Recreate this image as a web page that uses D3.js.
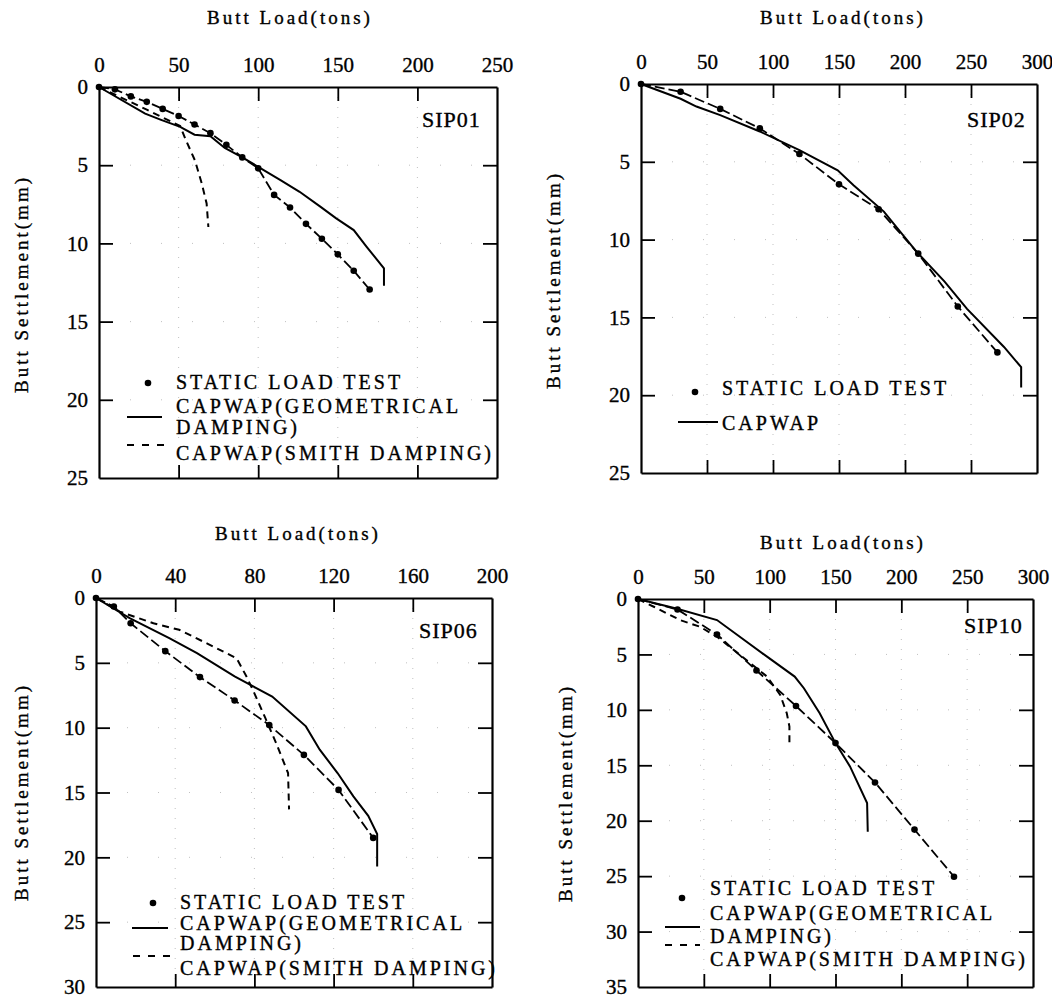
<!DOCTYPE html>
<html>
<head>
<meta charset="utf-8">
<script src="https://cdn.jsdelivr.net/npm/d3@7"></script>
<style>
body { margin: 0; background: #fff; }
text { font-family: "Liberation Serif", "Times New Roman", serif; fill: #000; stroke: #000; stroke-width: 0.35px; }
.tick text { font-family: "Liberation Serif", serif; font-size: 21px; }
.legend text { font-size: 20px; letter-spacing: 3px; }
</style>
</head>
<body>
<div id="chart"></div>
<script>
// ---- data (load in tons, settlement in mm) ----
var sip01Load   = [0, 10, 20, 30, 40, 50, 60, 70, 80, 90, 100, 110, 120, 130, 140, 150, 160, 170];
var sip01Static = [0, 0.15, 0.6, 0.95, 1.4, 1.85, 2.4, 2.95, 3.7, 4.5, 5.2, 6.9, 7.7, 8.75, 9.7, 10.7, 11.75, 12.95];
var sip01GeoLoad = [0, 29, 39, 51, 60, 70, 79, 90, 100, 114, 126, 139, 149, 160, 168, 179, 179];
var sip01GeoSet  = [0, 1.7, 2.1, 2.55, 3.05, 3.15, 3.9, 4.5, 5.1, 5.95, 6.7, 7.65, 8.4, 9.15, 10.2, 11.6, 12.7];
var sip01SmithLoad = [0, 30, 51, 54.6, 60.3, 64.5, 67.6, 68.7];
var sip01SmithSet  = [0, 1.45, 2.5, 3.4, 4.7, 6.15, 7.45, 8.95];

var sip02Load   = [0, 30, 60, 90, 120, 150, 180, 210, 240, 270];
var sip02Static = [0, 0.5, 1.6, 2.85, 4.5, 6.45, 8.05, 10.9, 14.3, 17.25];
var sip02CapLoad = [0, 30, 42, 60, 90, 120, 149, 161, 184, 209, 230, 247, 275, 288, 288];
var sip02CapSet  = [0, 0.95, 1.45, 2.0, 3.05, 4.25, 5.55, 6.5, 8.2, 10.8, 12.7, 14.45, 16.9, 18.2, 19.5];

var sip06Load   = [0, 9, 17.5, 35, 52.5, 70, 87.5, 105, 122.5, 140];
var sip06Static = [0, 0.65, 1.95, 4.1, 6.1, 7.9, 9.8, 12.1, 14.8, 18.5];
var sip06GeoLoad = [0, 17, 37, 51, 70, 89, 106, 113, 122, 130, 137.5, 142, 142];
var sip06GeoSet  = [0, 1.55, 3.1, 4.25, 6.05, 7.6, 9.9, 11.7, 13.5, 15.3, 16.8, 18.2, 20.7];
var sip06SmithLoad = [0, 12, 29, 42, 56, 71, 76, 80, 85.5, 91, 97, 97.5];
var sip06SmithSet  = [0, 1.05, 1.95, 2.45, 3.5, 4.65, 6.05, 7.35, 9.25, 11.2, 13.5, 16.3];

var sip10Load   = [0, 30, 60, 90, 120, 150, 180, 210, 240];
var sip10Static = [0, 0.95, 3.2, 6.45, 9.65, 13.0, 16.55, 20.8, 25.05];
var sip10GeoLoad = [0, 29, 60, 98, 119, 126, 138, 150, 161, 174, 174.5];
var sip10GeoSet  = [0, 0.85, 1.9, 5.2, 7.0, 8.05, 10.3, 13.0, 15.1, 18.4, 21.0];
var sip10SmithLoad = [0, 12, 32, 47, 60, 77.5, 98, 108, 113, 115, 115];
var sip10SmithSet  = [0, 0.7, 1.9, 2.5, 3.4, 5.05, 7.0, 8.65, 10.3, 11.5, 13.3];

var xTitle = "Butt Load(tons)";
var yTitle = "Butt Settlement(mm)";
var legStatic = "STATIC LOAD TEST";
var legGeo = ["CAPWAP(GEOMETRICAL", "DAMPING)"];
var legSmith = "CAPWAP(SMITH DAMPING)";
var legCap = "CAPWAP";

function zip(xs, ys) {
    return xs.map(function(v, i) { return [v, ys[i]]; });
}

// layout of the four panels (pixels)
var panels = [
    { name: "SIP01", x0: 99, y0: 87, x1: 497, y1: 478, xMax: 250, xStep: 50, yMax: 25,
      nameAt: [422, 127], titleAt: [290, 24], yTitleAt: [28, 284],
      stat: zip(sip01Load, sip01Static), geo: zip(sip01GeoLoad, sip01GeoSet), smith: zip(sip01SmithLoad, sip01SmithSet),
      legend: { dot: [148, 383], solid: [127, 162, 417], dash: [127, 165, 445], textX: 176,
                lines: [[legStatic, 389], [legGeo[0], 413], [legGeo[1], 434], [legSmith, 460]] } },
    { name: "SIP02", x0: 641, y0: 84, x1: 1037, y1: 473, xMax: 300, xStep: 50, yMax: 25,
      nameAt: [967, 127], titleAt: [843, 24], yTitleAt: [560, 280],
      stat: zip(sip02Load, sip02Static), geo: zip(sip02CapLoad, sip02CapSet), smith: null,
      legend: { dot: [695, 392], solid: [678, 718, 422], dash: null, textX: 722,
                lines: [[legStatic, 395], [legCap, 430]] } },
    { name: "SIP06", x0: 96, y0: 598, x1: 492, y1: 987, xMax: 200, xStep: 40, yMax: 30,
      nameAt: [419, 638], titleAt: [298, 540], yTitleAt: [28, 792],
      stat: zip(sip06Load, sip06Static), geo: zip(sip06GeoLoad, sip06GeoSet), smith: zip(sip06SmithLoad, sip06SmithSet),
      legend: { dot: [153, 903], solid: [132, 168, 928], dash: [133, 177, 956], textX: 180,
                lines: [[legStatic, 909], [legGeo[0], 930], [legGeo[1], 950], [legSmith, 975]] } },
    { name: "SIP10", x0: 638, y0: 599, x1: 1033, y1: 987, xMax: 300, xStep: 50, yMax: 35,
      nameAt: [964, 633], titleAt: [843, 549], yTitleAt: [572, 793],
      stat: zip(sip10Load, sip10Static), geo: zip(sip10GeoLoad, sip10GeoSet), smith: zip(sip10SmithLoad, sip10SmithSet),
      legend: { dot: [682, 898], solid: [665, 700, 927], dash: [665, 700, 945], textX: 710,
                lines: [[legStatic, 895], [legGeo[0], 920], [legGeo[1], 943], [legSmith, 966]] } }
];

var svg = d3.select("#chart").append("svg")
    .attr("width", 1052)
    .attr("height", 998);
svg.append("rect").attr("width", 1052).attr("height", 998).attr("fill", "#fff");

function drawPanel(p) {
    var x = d3.scaleLinear().domain([0, p.xMax]).range([p.x0, p.x1]);
    var y = d3.scaleLinear().domain([0, p.yMax]).range([p.y0, p.y1]);
    var xt = d3.range(0, p.xMax + 1, p.xStep);
    var yt = d3.range(0, p.yMax + 1, 5);
    var g = svg.append("g");

    // faint dotted grid left over from the scan
    g.append("g").selectAll("line").data(xt.slice(1, -1)).join("line")
        .attr("x1", function(d) { return x(d); }).attr("x2", function(d) { return x(d); })
        .attr("y1", p.y0).attr("y2", p.y1)
        .attr("stroke", "#999").attr("stroke-width", 1).attr("stroke-dasharray", "1,9").attr("opacity", 0.6);
    g.append("g").selectAll("line").data(yt.slice(1, -1)).join("line")
        .attr("y1", function(d) { return y(d); }).attr("y2", function(d) { return y(d); })
        .attr("x1", p.x0).attr("x2", p.x1)
        .attr("stroke", "#999").attr("stroke-width", 1).attr("stroke-dasharray", "1,30").attr("opacity", 0.6);

    // axes: ticks point inward on all four sides
    var top = g.append("g").attr("transform", "translate(0," + p.y0 + ")")
        .call(d3.axisTop(x).tickValues(xt).tickSizeInner(-14).tickSizeOuter(0).tickPadding(15));
    var bot = g.append("g").attr("transform", "translate(0," + p.y1 + ")")
        .call(d3.axisBottom(x).tickValues(xt).tickSizeInner(-13).tickSizeOuter(0).tickFormat(""));
    var lef = g.append("g").attr("transform", "translate(" + p.x0 + ",0)")
        .call(d3.axisLeft(y).tickValues(yt).tickSizeInner(-14).tickSizeOuter(0).tickPadding(11));
    var rig = g.append("g").attr("transform", "translate(" + p.x1 + ",0)")
        .call(d3.axisRight(y).tickValues(yt).tickSizeInner(-14).tickSizeOuter(0).tickFormat(""));
    [top, bot, lef, rig].forEach(function(a) {
        a.attr("font-size", null).attr("font-family", null);
        a.selectAll("path.domain").attr("stroke", "#000").attr("stroke-width", 2.2);
        a.selectAll(".tick line").attr("stroke", "#000").attr("stroke-width", 1.8);
    });
    top.selectAll(".tick text").attr("dy", "0");
    // endpoint tick marks sit on the frame, drop them
    top.selectAll(".tick").filter(function(d) { return d === 0 || d === p.xMax; }).select("line").remove();
    bot.selectAll(".tick").filter(function(d) { return d === 0 || d === p.xMax; }).select("line").remove();
    lef.selectAll(".tick").filter(function(d) { return d === 0 || d === p.yMax; }).select("line").remove();
    rig.selectAll(".tick").filter(function(d) { return d === 0 || d === p.yMax; }).select("line").remove();

    var line = d3.line().x(function(d) { return x(d[0]); }).y(function(d) { return y(d[1]); });

    g.append("path").datum(p.geo).attr("d", line)
        .attr("fill", "none").attr("stroke", "#000").attr("stroke-width", 2);
    if (p.smith) {
        g.append("path").datum(p.smith).attr("d", line)
            .attr("fill", "none").attr("stroke", "#000").attr("stroke-width", 2)
            .attr("stroke-dasharray", "7,5");
    }
    g.append("path").datum(p.stat).attr("d", line)
        .attr("fill", "none").attr("stroke", "#000").attr("stroke-width", 1.8)
        .attr("stroke-dasharray", "10,4");
    g.append("g").selectAll("circle").data(p.stat).join("circle")
        .attr("cx", function(d) { return x(d[0]); })
        .attr("cy", function(d) { return y(d[1]); })
        .attr("r", 3.3).attr("fill", "#000");

    // panel name and axis titles
    g.append("text").attr("x", p.nameAt[0]).attr("y", p.nameAt[1])
        .attr("font-size", 22).attr("letter-spacing", "1px").text(p.name);
    g.append("text").attr("x", p.titleAt[0]).attr("y", p.titleAt[1])
        .attr("text-anchor", "middle").attr("font-size", 19).attr("letter-spacing", "3px")
        .text(xTitle);
    g.append("text")
        .attr("transform", "translate(" + p.yTitleAt[0] + "," + p.yTitleAt[1] + ") rotate(-90)")
        .attr("text-anchor", "middle").attr("font-size", 19).attr("letter-spacing", "3px")
        .text(yTitle);

    // legend
    var L = p.legend;
    var lg = g.append("g").attr("class", "legend");
    lg.append("circle").attr("cx", L.dot[0]).attr("cy", L.dot[1]).attr("r", 3.3).attr("fill", "#000");
    lg.append("line").attr("x1", L.solid[0]).attr("x2", L.solid[1]).attr("y1", L.solid[2]).attr("y2", L.solid[2])
        .attr("stroke", "#000").attr("stroke-width", 2);
    if (L.dash) {
        lg.append("line").attr("x1", L.dash[0]).attr("x2", L.dash[1]).attr("y1", L.dash[2]).attr("y2", L.dash[2])
            .attr("stroke", "#000").attr("stroke-width", 2).attr("stroke-dasharray", "7,8");
    }
    lg.selectAll("text").data(L.lines).join("text")
        .attr("x", L.textX).attr("y", function(d) { return d[1]; })
        .text(function(d) { return d[0]; });
}

panels.forEach(drawPanel);
</script>
</body>
</html>
